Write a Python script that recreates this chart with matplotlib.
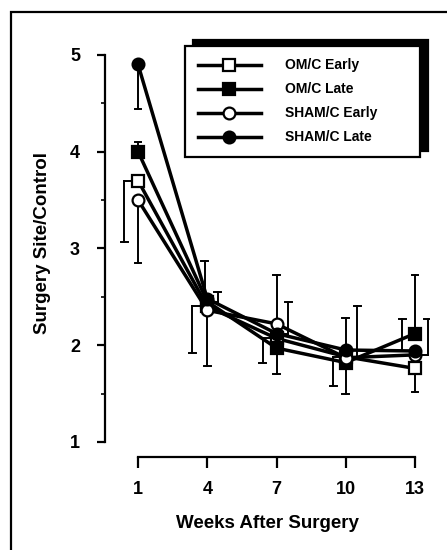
import numpy as np
import matplotlib
matplotlib.use("Agg")
import matplotlib.pyplot as plt
from matplotlib.lines import Line2D
from matplotlib.patches import Rectangle

# Data
weeks = [1, 4, 7, 10, 13]
series_names = ["OM/C Early", "OM/C Late", "SHAM/C Early", "SHAM/C Late"]
om_early = [3.70, 2.40, 2.07, 1.88, 1.76]
om_late = [4.00, 2.45, 1.97, 1.82, 2.12]
sham_early = [3.50, 2.36, 2.22, 1.87, 1.90]
sham_late = [4.90, 2.48, 2.12, 1.95, 1.94]

# one-sided error bars (positive = up, negative = down)
om_early_err = [-0.63, -0.48, -0.25, -0.30, -0.24]
om_late_err = [0.10, 0.10, -0.27, -0.32, 0.60]
sham_early_err = [-0.65, -0.58, 0.50, 0.53, 0.37]
sham_late_err = [-0.46, 0.39, 0.33, 0.33, 0.33]

# horizontal shift of each error bar (weeks) so they do not overlap
err_shift = [
    [-0.6, -0.65, -0.6, -0.55, 0.0],
    [0.0, 0.45, 0.0, 0.0, 0.0],
    [0.0, 0.0, 0.0, 0.5, 0.55],
    [0.0, -0.1, 0.5, 0.0, -0.55],
]

values = [om_early, om_late, sham_early, sham_late]
errors = [om_early_err, om_late_err, sham_early_err, sham_late_err]
markers = ["s", "s", "o", "o"]
faces = ["white", "black", "white", "black"]

plt.rcParams["font.family"] = ["Liberation Sans", "DejaVu Sans"]
plt.rcParams["font.weight"] = "bold"

fig = plt.figure(figsize=(4.47, 5.5), dpi=100)
ax = fig.add_axes([105 / 447, 108 / 550, 325 / 447, 397 / 550])

# error bars first so markers sit on top
for vals, errs, shifts in zip(values, errors, err_shift):
    for x, v, e, s in zip(weeks, vals, errs, shifts):
        xe = x + s
        ax.plot([xe, xe], [v, v + e], color="black", lw=1.4, zorder=1)
        ax.plot([xe - 0.15, xe + 0.15], [v + e, v + e], color="black", lw=1.4, zorder=1)
        if s != 0:
            ax.plot([xe, x], [v, v], color="black", lw=1.4, zorder=1)

for vals, m, fc in zip(values, markers, faces):
    ax.plot(weeks, vals, color="black", lw=2.5, marker=m, markersize=8.5,
            markerfacecolor=fc, markeredgecolor="black", markeredgewidth=1.6, zorder=3)

ax.set_xlim(-0.43, 13.65)
ax.set_ylim(1, 5.1)
ax.set_xticks(weeks)
ax.set_yticks([1, 2, 3, 4, 5])
ax.set_yticks([1.5, 2.5, 3.5, 4.5], minor=True)

for side in ["top", "right"]:
    ax.spines[side].set_visible(False)
ax.spines["left"].set_bounds(1, 5)
ax.spines["bottom"].set_bounds(1, 13)
ax.spines["bottom"].set_position(("outward", 11))
ax.spines["left"].set_linewidth(1.6)
ax.spines["bottom"].set_linewidth(1.6)
ax.tick_params(axis="y", which="major", length=6, width=1.6, labelsize=13, pad=12)
ax.tick_params(axis="y", which="minor", length=3, width=1.2)
ax.tick_params(axis="x", length=8, width=1.6, labelsize=13, pad=9)

ax.set_xlabel("Weeks After Surgery", fontsize=13.5, fontweight="bold", labelpad=12)
ax.set_ylabel("Surgery Site/Control", fontsize=13.5, fontweight="bold", labelpad=14)

handles = [Line2D([], [], color="black", lw=2.5, marker=m, markersize=8.5,
                  markerfacecolor=fc, markeredgecolor="black", markeredgewidth=1.6)
           for m, fc in zip(markers, faces)]
leg = ax.legend(handles, series_names, loc="upper left", mode="expand",
                bbox_to_anchor=(185 / 447, 1 - 155 / 550, 235 / 447, 109 / 550),
                bbox_transform=fig.transFigure,
                borderaxespad=0, fontsize=10, handlelength=4.6, handletextpad=1.7,
                borderpad=0.9, labelspacing=0.72, fancybox=False, edgecolor="black",
                shadow={"ox": 5.5, "oy": 4.5, "color": "black", "alpha": 1})
leg.get_frame().set_linewidth(1.6)

# outer frame around the whole panel
fig.add_artist(Rectangle((11 / 447, -0.1), 1.2, 1.1 - 12 / 550, transform=fig.transFigure,
                         fill=False, edgecolor="black", lw=1.6))

fig.savefig("out.png", dpi=100)
